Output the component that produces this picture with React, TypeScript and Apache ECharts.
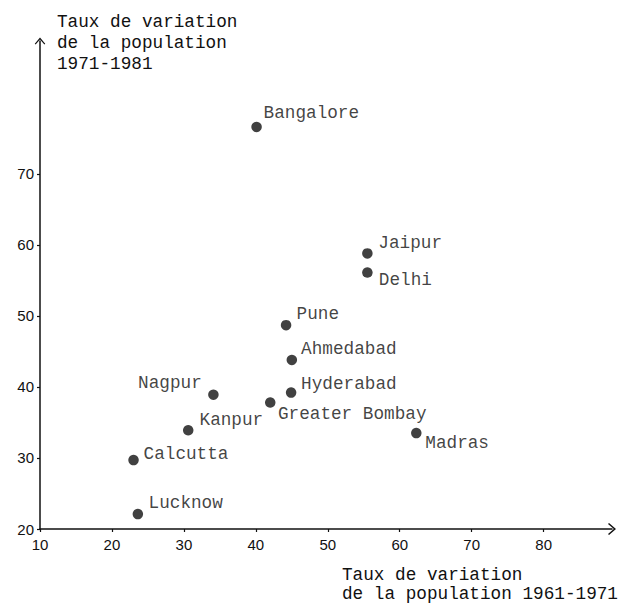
import React, { useEffect, useRef } from "react";
import * as echarts from "echarts";

const cities = [
  "Bangalore", "Jaipur", "Delhi", "Pune", "Ahmedabad", "Hyderabad",
  "Nagpur", "Greater Bombay", "Kanpur", "Madras", "Calcutta", "Lucknow",
];
const growth6171 = [40.1, 55.5, 55.5, 44.2, 45.0, 44.9, 34.1, 42.0, 30.6, 62.3, 23.0, 23.6];
const growth7181 = [76.6, 58.8, 56.1, 48.7, 43.8, 39.2, 38.9, 37.8, 33.9, 33.5, 29.7, 22.1];
const xTicks = [10, 20, 30, 40, 50, 60, 70, 80];
const yTicks = [20, 30, 40, 50, 60, 70];
const xTitle = "Taux de variation\nde la population 1961-1971";
const yTitle = "Taux de variation\nde la population\n1971-1981";

// label placement (pixels, relative to the point centre): [side, dx, dy]
const labelPlacement: Record<string, [string, number, number]> = {
  Bangalore: ["right", 7, -13.5],
  Jaipur: ["right", 11, -10],
  Delhi: ["right", 11.5, 7.3],
  Pune: ["right", 10.5, -10.7],
  Ahmedabad: ["right", 9.3, -11],
  Hyderabad: ["right", 10, -8.4],
  Nagpur: ["left", -11.6, -11.7],
  "Greater Bombay": ["right", 7.7, 11],
  Kanpur: ["right", 11.3, -10],
  Madras: ["right", 9, 9.4],
  Calcutta: ["right", 10, -5.7],
  Lucknow: ["right", 10.7, -11.3],
};

const MONO = "'Liberation Mono', 'Courier New', monospace";
const SANS = "'Liberation Sans', Arial, sans-serif";
const INK = "#111111";
const chevron = "path://M6 0 L12 7 L11 8 L6 2.2 L1 8 L0 7 Z";

export default function App() {
  const ref = useRef<HTMLDivElement>(null);
  useEffect(() => {
    if (!ref.current) return;
    const chart = echarts.init(ref.current, null, { renderer: "svg" });
    const R = 5.25;
    const data = cities.map((c, i) => {
      const [side, dx, dy] = labelPlacement[c];
      return {
        name: c,
        value: [growth6171[i], growth7181[i]],
        label: {
          position: side,
          distance: 0,
          offset: side === "left" ? [dx + R, dy] : [dx - R, dy],
        },
      };
    });
    chart.setOption({
      animation: false,
      backgroundColor: "#ffffff",
      grid: { left: 40, right: 16, top: 41, bottom: 78, containLabel: false },
      xAxis: {
        type: "value",
        min: 10,
        max: 89.5,
        interval: 10,
        splitLine: { show: false },
        axisLine: {
          show: true,
          lineStyle: { color: INK, width: 1.5 },
          symbol: ["none", chevron],
          symbolSize: [12, 8],
        },
        axisTick: { show: true, length: 3, customValues: xTicks, lineStyle: { color: INK, width: 1.2 } },
        axisLabel: {
          customValues: xTicks,
          margin: 8,
          color: INK,
          fontFamily: SANS,
          fontSize: 15,
        },
      },
      yAxis: {
        type: "value",
        min: 20,
        max: 88.7,
        interval: 10,
        splitLine: { show: false },
        axisLine: {
          show: true,
          lineStyle: { color: INK, width: 1.5 },
          symbol: ["none", chevron],
          symbolSize: [11, 7],
        },
        axisTick: { show: true, length: 3, customValues: yTicks, lineStyle: { color: INK, width: 1.2 } },
        axisLabel: {
          customValues: yTicks,
          margin: 6,
          color: INK,
          fontFamily: SANS,
          fontSize: 15,
          padding: [0, 0, 8, 0],
        },
      },
      series: [
        {
          type: "scatter",
          symbol: "circle",
          symbolSize: 10.5,
          itemStyle: { color: INK },
          label: {
            show: true,
            formatter: "{b}",
            color: INK,
            fontFamily: MONO,
            fontSize: 17.7,
          },
          emphasis: { disabled: true },
          data,
        },
      ],
      graphic: [
        {
          type: "text",
          left: 57,
          top: 12,
          style: {
            text: yTitle,
            fill: INK,
            font: `17.7px ${MONO}`,
            lineHeight: 20.6,
          },
        },
        {
          type: "text",
          left: 342,
          top: 565,
          style: {
            text: xTitle,
            fill: INK,
            font: `17.7px ${MONO}`,
            lineHeight: 19.5,
          },
        },
      ],
    });
    return () => chart.dispose();
  }, []);
  return (
    <div
      ref={ref}
      style={{ position: "fixed", left: 0, top: 0, width: 628, height: 607, background: "#fff" }}
    />
  );
}
